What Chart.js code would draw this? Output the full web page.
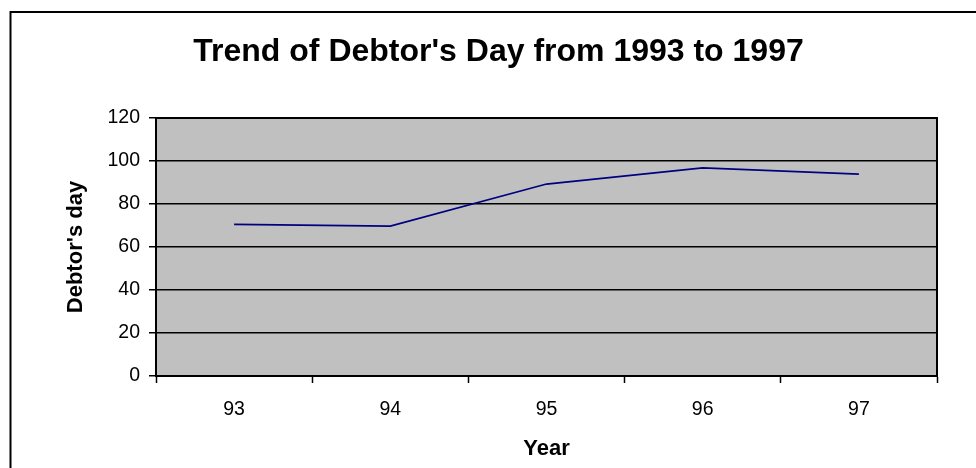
<!DOCTYPE html>
<html>
<head>
<meta charset="utf-8">
<script src="https://cdn.jsdelivr.net/npm/chart.js@4/dist/chart.umd.min.js"></script>
<style>
  html, body { margin: 0; padding: 0; background: #fff; }
  #wrap { width: 976px; height: 468px; position: relative; }
</style>
</head>
<body>
<div id="wrap"><canvas id="chart" width="976" height="468"></canvas></div>
<script>
// Year labels along the category axis
const years = ['93', '94', '95', '96', '97'];
// Debtor's days for each year
const debtorDays = [70.5, 69.7, 89.3, 96.8, 93.9];
// Value axis ticks
const yMin = 0;
const yMax = 120;
const yStep = 20;

const FONT = '"Liberation Sans", Arial, Helvetica, sans-serif';

// White page with an outer frame, plus the grey plot background
const framePlugin = {
  id: 'frame',
  beforeDraw(chart) {
    const ctx = chart.ctx;
    const a = chart.chartArea;
    ctx.save();
    ctx.fillStyle = '#ffffff';
    ctx.fillRect(0, 0, chart.width, chart.height);
    ctx.strokeStyle = '#000000';
    ctx.lineWidth = 2;
    ctx.beginPath();
    ctx.moveTo(10.5, chart.height + 5);
    ctx.lineTo(10.5, 12);
    ctx.lineTo(chart.width + 5, 12);
    ctx.stroke();
    ctx.fillStyle = '#c0c0c0';
    ctx.fillRect(a.left, a.top, a.right - a.left, a.bottom - a.top);
    ctx.restore();
  },
  afterDraw(chart) {
    const ctx = chart.ctx;
    const a = chart.chartArea;
    ctx.save();
    ctx.strokeStyle = '#000000';
    ctx.lineWidth = 2;
    ctx.strokeRect(a.left, a.top, a.right - a.left, a.bottom - a.top);
    ctx.restore();
  }
};

new Chart(document.getElementById('chart'), {
  type: 'line',
  data: {
    labels: years,
    datasets: [{
      label: "Debtor's day",
      data: debtorDays,
      borderColor: '#000080',
      borderWidth: 1.75,
      pointRadius: 0,
      tension: 0,
      fill: false
    }]
  },
  options: {
    responsive: false,
    animation: false,
    layout: { padding: { left: 60, right: 39, top: 0, bottom: 0 } },
    plugins: {
      legend: { display: false },
      tooltip: { enabled: false },
      title: {
        display: true,
        text: "Trend of Debtor's Day from 1993 to 1997",
        color: '#000000',
        font: { family: FONT, size: 32, weight: 'bold' },
        padding: { top: 33, bottom: 46.6 }
      }
    },
    scales: {
      x: {
        offset: true,
        grid: {
          offset: true,
          drawOnChartArea: false,
          drawTicks: true,
          tickLength: 7,
          tickWidth: 1.5,
          tickColor: '#000000'
        },
        border: { display: true, color: '#000000', width: 2 },
        ticks: {
          color: '#000000',
          padding: 15,
          maxRotation: 0,
          font: { family: FONT, size: 19.5 }
        },
        title: {
          display: true,
          text: 'Year',
          color: '#000000',
          font: { family: FONT, size: 22, weight: 'bold' },
          padding: { top: 0, bottom: 6 }
        },
        afterFit(scale) { scale.height = 92; }
      },
      y: {
        min: yMin,
        max: yMax,
        grid: {
          color: '#000000',
          lineWidth: 1.5,
          drawTicks: true,
          tickLength: 7,
          tickColor: '#000000'
        },
        border: { display: true, color: '#000000', width: 2 },
        ticks: {
          stepSize: yStep,
          color: '#000000',
          padding: 9,
          font: { family: FONT, size: 19.5 }
        },
        title: {
          display: true,
          text: "Debtor's day",
          color: '#000000',
          font: { family: FONT, size: 22, weight: 'bold' },
          padding: { top: 3, bottom: 0 }
        },
        afterFit(scale) { scale.width = 96; }
      }
    }
  },
  plugins: [framePlugin]
});
</script>
</body>
</html>
